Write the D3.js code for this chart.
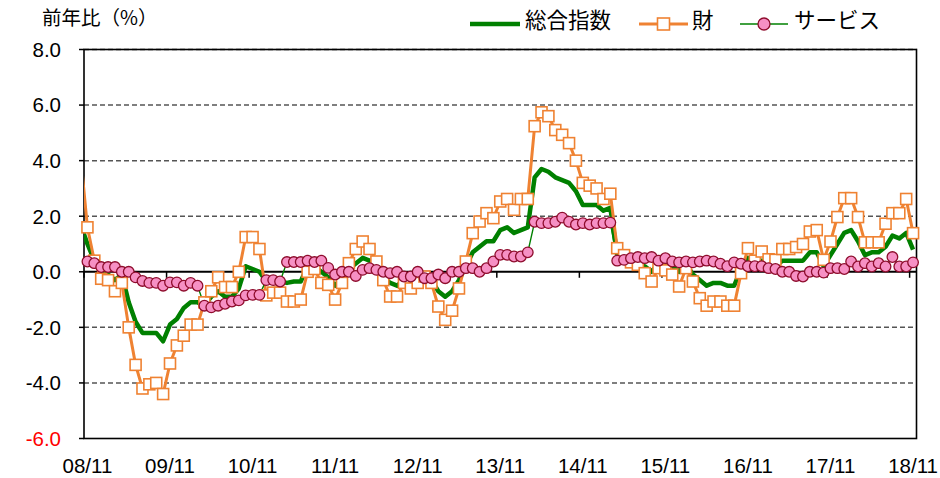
<!DOCTYPE html>
<html>
<head>
<meta charset="utf-8">
<script src="https://cdn.jsdelivr.net/npm/d3@7"></script>
<style>
  body { margin: 0; background: #fff; }
  text { font-family: "Liberation Sans", Arial, sans-serif; }
  .jp { font-family: "Noto Sans CJK JP", "Noto Sans", sans-serif; }
</style>
</head>
<body>
<svg width="940" height="478"></svg>
<script>
// year labels shown under the axis (every 12th month)
var tickLabels = ["08/11", "09/11", "10/11", "11/11", "12/11", "13/11",
                  "14/11", "15/11", "16/11", "17/11", "18/11"];
var yTicks = [-6, -4, -2, 0, 2, 4, 6, 8];

// monthly, 08/10 .. 18/11 (08/10 only feeds the clipped line start)
var total = [1.7,
  1.0, 0.4,
  0.0, -0.1, -0.3, -0.1, -1.1, -1.8, -2.2, -2.2, -2.2, -2.5, -1.9, -1.7,
  -1.3, -1.1, -1.1, -1.2, -0.9, -0.7, -0.9, -0.9, -0.6, 0.2, 0.1, 0.0,
  -0.35, -0.35, -0.35, -0.4, -0.35, -0.35, 0.2, 0.2, 0.0, -0.2, -0.5, -0.2,
  0.1, 0.3, 0.5, 0.4, 0.2, -0.2, -0.4, -0.5, -0.3, -0.4, -0.2, -0.1,
  -0.3, -0.7, -0.9, -0.7, -0.3, 0.2, 0.7, 0.9, 1.1, 1.1, 1.5, 1.6,
  1.4, 1.5, 1.6, 3.4, 3.7, 3.6, 3.4, 3.3, 3.2, 2.9, 2.4, 2.4,
  2.4, 2.2, 2.3, 0.6, 0.5, 0.4, 0.2, 0.2, 0.0, 0.3, 0.3, 0.2,
  0.0, 0.3, -0.1, -0.3, -0.5, -0.4, -0.4, -0.5, -0.5, 0.1, 0.5, 0.3,
  0.4, 0.3, 0.2, 0.4, 0.4, 0.4, 0.4, 0.7, 0.7, 0.2, 0.6, 1.0,
  1.4, 1.5, 1.1, 0.6, 0.7, 0.7, 0.9, 1.3, 1.2, 1.4, 0.8];

var goods = [4.2,
  1.6, 0.4,
  -0.25, -0.3, -0.7, -0.4, -2.0, -3.35, -4.2, -4.05, -4.0, -4.4, -3.3, -2.65,
  -2.3, -1.9, -1.9, -1.1, -0.7, -0.2, -0.55, -0.55, 0.0, 1.25, 1.25, 0.82,
  -0.85, -0.75, -0.75, -1.07, -1.07, -1.0, 0.0, 0.1, -0.4, -0.47, -1.0, -0.4,
  0.31, 0.82, 1.09, 0.82, 0.37, -0.3, -0.89, -0.89, -0.4, -0.6, -0.4, -0.17,
  -0.4, -1.25, -1.73, -1.4, -0.6, 0.37, 1.39, 1.81, 2.11, 1.93, 2.53, 2.62,
  2.23, 2.62, 2.62, 5.24, 5.74, 5.6, 5.1, 4.93, 4.63, 4.0, 3.2, 3.1,
  3.0, 2.62, 2.81, 0.85, 0.6, 0.34, 0.25, -0.05, -0.35, 0.13, 0.05, -0.1,
  -0.53, 0.13, -0.35, -0.95, -1.22, -1.07, -1.07, -1.22, -1.22, -0.05, 0.85, 0.4,
  0.73, 0.45, 0.43, 0.82, 0.82, 0.89, 1.0, 1.45, 1.5, 0.43, 1.09, 1.97,
  2.65, 2.65, 1.97, 1.06, 1.06, 1.06, 1.73, 2.11, 2.11, 2.62, 1.39];

var services = [null,
  0.37, 0.31,
  0.17, 0.17, 0.17, 0.0, 0.0, -0.2, -0.33, -0.4, -0.4, -0.5, -0.38, -0.38,
  -0.5, -0.4, -0.5, -1.22, -1.28, -1.22, -1.15, -1.07, -1.03, -0.85, -0.83, -0.83,
  -0.3, -0.3, -0.35, 0.35, 0.35, 0.35, 0.4, 0.35, 0.4, 0.14, -0.1, 0.0,
  0.0, -0.15, 0.07, 0.13, 0.07, 0.0, -0.05, 0.0, -0.17, -0.17, 0.0, -0.23,
  -0.23, -0.1, -0.23, 0.0, 0.0, 0.13, 0.13, 0.0, 0.13, 0.37, 0.61, 0.61,
  0.55, 0.55, 0.7, 1.8, 1.75, 1.75, 1.8, 1.95, 1.8, 1.7, 1.75, 1.7,
  1.75, 1.75, 1.77, 0.4, 0.43, 0.49, 0.53, 0.49, 0.53, 0.4, 0.49, 0.37,
  0.34, 0.37, 0.34, 0.37, 0.4, 0.37, 0.29, 0.2, 0.34, 0.29, 0.2, 0.2,
  0.2, 0.13, 0.1, 0.0, 0.0, -0.15, -0.17, 0.0, 0.0, -0.03, 0.13, 0.13,
  0.1, 0.37, 0.19, 0.31, 0.19, 0.31, 0.19, 0.53, 0.19, 0.19, 0.34];

function pad(n) { return (n < 10 ? "0" : "") + n; }
var months = d3.range(total.length).map(function(i) {
  var m = 9 + i;
  return pad(8 + Math.floor(m / 12)) + "/" + pad(m % 12 + 1);
});

var GREEN = "#008000", ORANGE = "#EF8232", PINK = "#F690C4", DARKRED = "#8E0C2C";

var svg = d3.select("svg");
var x = d3.scaleLinear().domain([0.5, months.length - 0.5]).range([84, 916.5]);
var y = d3.scaleLinear().domain([-6, 8]).range([438.5, 49.5]);

svg.append("clipPath").attr("id", "plot")
  .append("rect").attr("x", 84).attr("y", 49.5).attr("width", 832.5).attr("height", 389);

// gridlines
svg.selectAll(".grid")
  .data(yTicks.filter(function(v) { return v !== 0 && v !== -6; }))
  .enter().append("line")
  .attr("x1", 84).attr("x2", 916.5)
  .attr("y1", function(d) { return y(d); }).attr("y2", function(d) { return y(d); })
  .attr("stroke", "#555").attr("stroke-width", 1.5).attr("stroke-dasharray", "5,3");

// plot border
svg.append("rect")
  .attr("x", 84).attr("y", y(8)).attr("width", 832.5).attr("height", y(-6) - y(8))
  .attr("fill", "none").attr("stroke", "#000").attr("stroke-width", 1.6);

// zero axis with yearly ticks
svg.append("line")
  .attr("x1", 84).attr("x2", 916.5).attr("y1", y(0)).attr("y2", y(0))
  .attr("stroke", "#000").attr("stroke-width", 2);
svg.selectAll(".xtick").data(tickLabels).enter().append("line")
  .attr("x1", function(d, k) { return x(1 + 12 * k - 0.5); })
  .attr("x2", function(d, k) { return x(1 + 12 * k - 0.5); })
  .attr("y1", y(0)).attr("y2", y(0) + 6)
  .attr("stroke", "#000").attr("stroke-width", 1.5);

// y ticks + labels
svg.selectAll(".ytick").data(yTicks).enter().append("line")
  .attr("x1", 79).attr("x2", 84)
  .attr("y1", function(d) { return y(d); }).attr("y2", function(d) { return y(d); })
  .attr("stroke", "#000").attr("stroke-width", 1.5);
svg.selectAll(".ylab").data(yTicks).enter().append("text")
  .attr("x", 61).attr("y", function(d) { return y(d); }).attr("dy", "0.36em")
  .attr("text-anchor", "end").attr("font-size", 20.5)
  .attr("fill", function(d) { return d === -6 ? "#ff0000" : "#000"; })
  .text(function(d) { return d.toFixed(1); });

// x labels
svg.selectAll(".xlab").data(tickLabels).enter().append("text")
  .attr("x", function(d, k) { return x(1 + 12 * k); }).attr("y", 473)
  .attr("text-anchor", "middle").attr("font-size", 20.5)
  .text(function(d) { return d; });

svg.append("text").attr("class", "jp")
  .attr("x", 42).attr("y", 25).attr("font-size", 19.5)
  .text("前年比（%）");

var idx = d3.range(months.length);
function line(vals) {
  return d3.line()
    .defined(function(i) { return vals[i] !== null; })
    .x(function(i) { return x(i); })
    .y(function(i) { return y(vals[i]); })(idx);
}
var shown = idx.filter(function(i) { return i >= 1; });
var plot = svg.append("g").attr("clip-path", "url(#plot)");

// 総合指数
plot.append("path").attr("d", line(total))
  .attr("fill", "none").attr("stroke", GREEN).attr("stroke-width", 4.5)
  .attr("stroke-linejoin", "round");

// 財
plot.append("path").attr("d", line(goods))
  .attr("fill", "none").attr("stroke", ORANGE).attr("stroke-width", 3)
  .attr("stroke-linejoin", "round");
svg.append("g").selectAll("rect").data(shown).enter().append("rect")
  .attr("x", function(i) { return x(i) - 5.5; })
  .attr("y", function(i) { return y(goods[i]) - 5.5; })
  .attr("width", 11).attr("height", 11)
  .attr("fill", "#fff").attr("stroke", ORANGE).attr("stroke-width", 1.6);

// サービス
plot.append("path").attr("d", line(services))
  .attr("fill", "none").attr("stroke", GREEN).attr("stroke-width", 1.4);
svg.append("g").selectAll("circle").data(shown).enter().append("circle")
  .attr("cx", function(i) { return x(i); })
  .attr("cy", function(i) { return y(services[i]); })
  .attr("r", 5.3)
  .attr("fill", PINK).attr("stroke", DARKRED).attr("stroke-width", 1.3);

// legend
var lg = svg.append("g");
lg.append("line").attr("x1", 470).attr("x2", 520).attr("y1", 24).attr("y2", 24)
  .attr("stroke", GREEN).attr("stroke-width", 4.5);
lg.append("text").attr("class", "jp").attr("x", 525).attr("y", 28).attr("font-size", 21.5).text("総合指数");
lg.append("line").attr("x1", 639).attr("x2", 688).attr("y1", 24).attr("y2", 24)
  .attr("stroke", ORANGE).attr("stroke-width", 3);
lg.append("rect").attr("x", 657.5).attr("y", 18).attr("width", 12).attr("height", 12)
  .attr("fill", "#fff").attr("stroke", ORANGE).attr("stroke-width", 1.6);
lg.append("text").attr("class", "jp").attr("x", 692).attr("y", 28).attr("font-size", 21.5).text("財");
lg.append("line").attr("x1", 740).attr("x2", 788).attr("y1", 24).attr("y2", 24)
  .attr("stroke", GREEN).attr("stroke-width", 1.4);
lg.append("circle").attr("cx", 764).attr("cy", 24).attr("r", 6)
  .attr("fill", PINK).attr("stroke", DARKRED).attr("stroke-width", 1.3);
lg.append("text").attr("class", "jp").attr("x", 794).attr("y", 28).attr("font-size", 21.5).text("サービス");
</script>
</body>
</html>
